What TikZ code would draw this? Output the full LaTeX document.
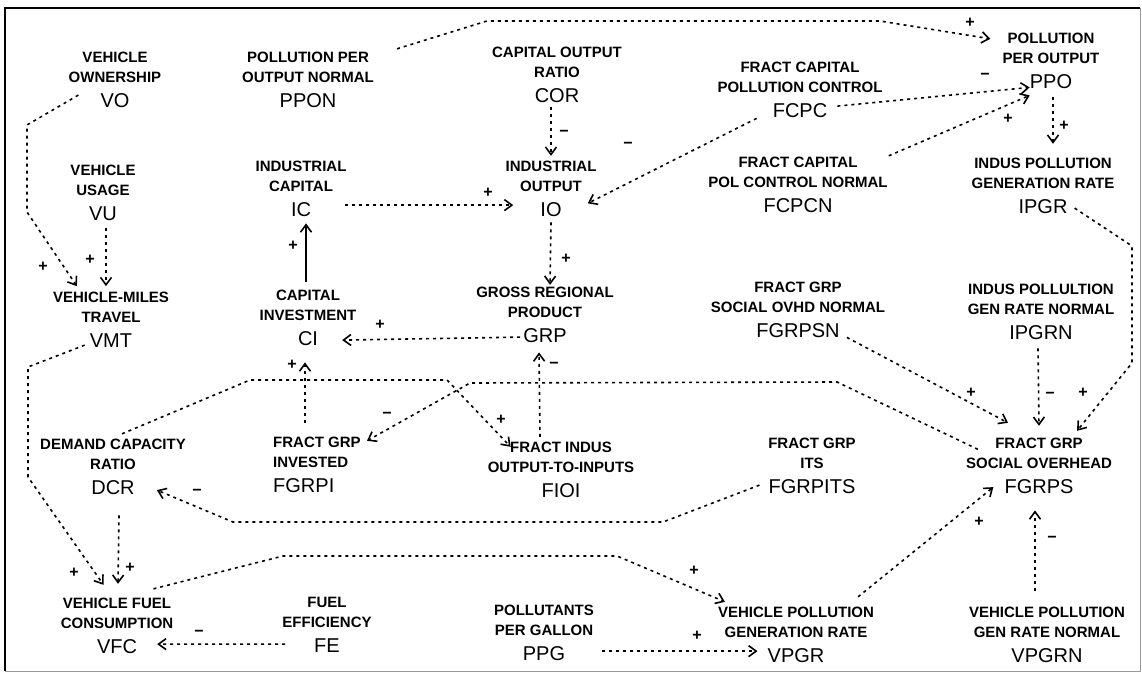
\documentclass[tikz,border=0pt]{standalone}
\usepackage{fontspec}
\setmainfont{Liberation Sans}
\usetikzlibrary{arrows.meta, positioning, calc}

\begin{document}
\begin{tikzpicture}[x = 1pt, y = -1pt, > = {Straight Barb[length = 7.5pt, width = 11pt]},
	abbr/.style = {inner sep = 0pt, font = \fontsize{20}{24}\selectfont},
	lbl/.style = {inner sep = 0pt, align = center, font = \bfseries\fontsize{15}{20}\selectfont},
	sgn/.style = {inner sep = 0pt, font = \bfseries\fontsize{16}{16}\selectfont},
	link/.style = {->, line width = 1.6pt, dash pattern = on 3pt off 4pt}]

	\useasboundingbox (0, 0) rectangle (1142, 680);

	% Frame

	\draw [line width = 1.8pt] (5, 671) -- (5, 8) -- (1140, 8);
	\draw [line width = 1pt, black!40] (1140, 8) -- (1140, 671) -- (5, 671);

	% Variables

	\node [abbr, anchor = base] (vo) at (115, 107) {VO};
	\node [lbl, above = 10pt of vo] (vo-l) {VEHICLE\\OWNERSHIP};
	\node [abbr, anchor = base] (ppon) at (308, 107) {PPON};
	\node [lbl, above = 10pt of ppon] (ppon-l) {POLLUTION PER\\OUTPUT NORMAL};
	\node [abbr, anchor = base] (cor) at (557, 102) {COR};
	\node [lbl, above = 10pt of cor] (cor-l) {CAPITAL OUTPUT\\RATIO};
	\node [abbr, anchor = base] (fcpc) at (800, 117) {FCPC};
	\node [lbl, above = 10pt of fcpc] (fcpc-l) {FRACT CAPITAL\\POLLUTION CONTROL};
	\node [abbr, anchor = base] (ppo) at (1051, 88) {PPO};
	\node [lbl, above = 10pt of ppo] (ppo-l) {POLLUTION\\PER OUTPUT};

	\node [abbr, anchor = base] (vu) at (103, 220) {VU};
	\node [lbl, above = 10pt of vu] (vu-l) {VEHICLE\\USAGE};
	\node [abbr, anchor = base] (ic) at (301, 216) {IC};
	\node [lbl, above = 10pt of ic] (ic-l) {INDUSTRIAL\\CAPITAL};
	\node [abbr, anchor = base] (io) at (551, 216) {IO};
	\node [lbl, above = 10pt of io] (io-l) {INDUSTRIAL\\OUTPUT};
	\node [abbr, anchor = base] (fcpcn) at (798, 212) {FCPCN};
	\node [lbl, above = 10pt of fcpcn] (fcpcn-l) {FRACT CAPITAL\\POL CONTROL NORMAL};
	\node [abbr, anchor = base] (ipgr) at (1043, 213) {IPGR};
	\node [lbl, above = 10pt of ipgr] (ipgr-l) {INDUS POLLUTION\\GENERATION RATE};

	\node [abbr, anchor = base] (vmt) at (111, 347) {VMT};
	\node [lbl, above = 10pt of vmt] (vmt-l) {VEHICLE-MILES\\TRAVEL};
	\node [abbr, anchor = base] (ci) at (308, 345) {CI};
	\node [lbl, above = 10pt of ci] (ci-l) {CAPITAL\\INVESTMENT};
	\node [abbr, anchor = base] (grp) at (545, 342) {GRP};
	\node [lbl, above = 10pt of grp] (grp-l) {GROSS REGIONAL\\PRODUCT};
	\node [abbr, anchor = base] (fgrpsn) at (798, 337) {FGRPSN};
	\node [lbl, above = 10pt of fgrpsn] (fgrpsn-l) {FRACT GRP\\SOCIAL OVHD NORMAL};
	\node [abbr, anchor = base] (ipgrn) at (1041, 339) {IPGRN};
	\node [lbl, above = 10pt of ipgrn] (ipgrn-l) {INDUS POLLULTION\\GEN RATE NORMAL};

	\node [abbr, anchor = base] (dcr) at (113, 494) {DCR};
	\node [lbl, above = 10pt of dcr] (dcr-l) {DEMAND CAPACITY\\RATIO};
	\node [abbr, anchor = base west] (fgrpi) at (273, 492) {FGRPI};
	\node [lbl, align = left, above = 10pt of fgrpi.north west, anchor = south west] (fgrpi-l) {FRACT GRP\\INVESTED};
	\node [abbr, anchor = base] (fioi) at (561, 497) {FIOI};
	\node [lbl, above = 10pt of fioi] (fioi-l) {FRACT INDUS\\OUTPUT-TO-INPUTS};
	\node [abbr, anchor = base] (fgrpits) at (812, 493) {FGRPITS};
	\node [lbl, above = 10pt of fgrpits] (fgrpits-l) {FRACT GRP\\ITS};
	\node [abbr, anchor = base] (fgrps) at (1039, 493) {FGRPS};
	\node [lbl, above = 10pt of fgrps] (fgrps-l) {FRACT GRP\\SOCIAL OVERHEAD};

	\node [abbr, anchor = base] (vfc) at (117, 653) {VFC};
	\node [lbl, above = 10pt of vfc] (vfc-l) {VEHICLE FUEL\\CONSUMPTION};
	\node [abbr, anchor = base] (fe) at (327, 652) {FE};
	\node [lbl, above = 10pt of fe] (fe-l) {FUEL\\EFFICIENCY};
	\node [abbr, anchor = base] (ppg) at (544, 660) {PPG};
	\node [lbl, above = 10pt of ppg] (ppg-l) {POLLUTANTS\\PER GALLON};
	\node [abbr, anchor = base] (vpgr) at (796, 662) {VPGR};
	\node [lbl, above = 10pt of vpgr] (vpgr-l) {VEHICLE POLLUTION\\GENERATION RATE};
	\node [abbr, anchor = base] (vpgrn) at (1047, 662) {VPGRN};
	\node [lbl, above = 10pt of vpgrn] (vpgrn-l) {VEHICLE POLLUTION\\GEN RATE NORMAL};

	% Pollution per output

	\draw [link] ($(ppon-l.north east) + (23, -3)$) -- (487, 21) -- (880, 21) -- ($(ppo-l.north west) + (-12, 6)$);
	\draw [link] ($(fcpc.east) + (10, -4)$) -- ($(ppo.south west) + (0, -1)$);
	\draw [link] ($(fcpcn-l.north east) + (1, -1)$) -- ($(ppo.south west) + (0, 7)$);
	\draw [link] ($(ppo.south) + (2, 9)$) -- ($(ipgr-l.north) + (10, -14)$);

	% Industrial output and capital

	\draw [link] ($(cor.south) + (-6, 5)$) -- ($(io-l.north) + (0, -5)$);
	\draw [link] ($(fcpc.south west) + (-16, 1)$) -- ($(io.north east) + (26, 1.5)$);
	\draw [link] ($(ic.east) + (34, -4)$) -- ($(io.west) + (-27, -4)$);
	\draw [link] ($(io.south) + (0, 6)$) -- ($(grp-l.north) + (5, -2)$);
	\draw [link] ($(grp.west) + (-3, 2)$) -- ($(ci.east) + (24, 2)$);
	\draw [->, line width = 1.6pt] ($(ci-l.north) + (-2, -8)$) -- ($(ic.south) + (5, 7)$);
	\draw [link] ($(fgrpi-l.north west) + (32, -14)$) -- ($(ci.south) + (-3, 17)$);
	\draw [link] ($(fioi-l.north) + (-21, -5)$) -- ($(grp.south) + (-6, 10)$);

	% Vehicles

	\draw [link] ($(vo.west) + (-22, -5)$) -- (27, 125) -- (27, 212) -- ($(vmt-l.north west) + (24, -6)$);
	\draw [link] ($(vu.south) + (3, 8)$) -- ($(vmt-l.north) + (-5, -6)$);
	\draw [link] ($(vmt.west) + (-5, 5)$) -- (28, 367) -- (28, 477) -- ($(vfc-l.north west) + (43, -13)$);
	\draw [link] ($(dcr.south) + (6, 21)$) -- ($(vfc-l.north) + (1, -14)$);
	\draw [link] ($(fe.west) + (-29, -1)$) -- ($(vfc.east) + (20, -2)$);
	\draw [link] ($(vfc-l.north east) + (-20, -9)$) -- (283, 556) -- (617, 556) -- ($(vpgr-l.north west) + (7, -5)$);
	\draw [link] ($(ppg.east) + (37, -2)$) -- ($(vpgr.west) + (-10, -4)$);

	% Social overhead

	\draw [link] ($(vpgr-l.north east) + (-16, -10)$) -- ($(fgrps.west) + (-11, 1)$);
	\draw [link] ($(vpgrn-l.north) + (-12, -16)$) -- ($(fgrps.south) + (-4, 17)$);
	\draw [link] ($(ipgrn.south) + (-3, 9)$) -- ($(fgrps-l.north) + (0, -12)$);
	\draw [link] ($(ipgr.east) + (7, 2)$) -- (1132, 246) -- (1132, 363) -- ($(fgrps-l.north) + (38, -7)$);
	\draw [link] ($(fgrpsn.south east) + (7, 0)$) -- ($(fgrps-l.north) + (-31, -15)$);

	% Fractions of GRP

	\draw [link] ($(fgrps-l.west) + (12, -4)$) -- (837, 382) -- (470, 383) -- ($(fgrpi-l.north west) + (94, 4)$);
	\draw [link] ($(dcr-l.north) + (9, -5)$) -- (250, 380) -- (447, 380) -- ($(fioi-l.north west) + (23, 5)$);
	\draw [link] ($(fgrpits.west) + (-9, -1)$) -- (663, 522) -- (233, 522) -- ($(dcr.east) + (22, 3)$);

	% Signs

	\foreach \x/\y/\s [count = \i] in {970/23/+, 564/133/−, 628/145/−, 488/193/+, 566/259/+,
		380/325/+, 293/246/+, 292/365/+, 554/365/−, 43/267/+, 90/260/+, 74/573/+, 130/568/+,
		199/633/−, 694/571/+, 697/636/+, 979/522/+, 1052/539/−, 1050/395/−, 1083/393/+,
		971/393/+, 387/415/−, 501/420/+, 197/492/−, 1008/119/+, 985/76/−, 1064/126/+}
		\node [sgn] (sign-\i) at (\x, \y) {\s};

\end{tikzpicture}
\end{document}
